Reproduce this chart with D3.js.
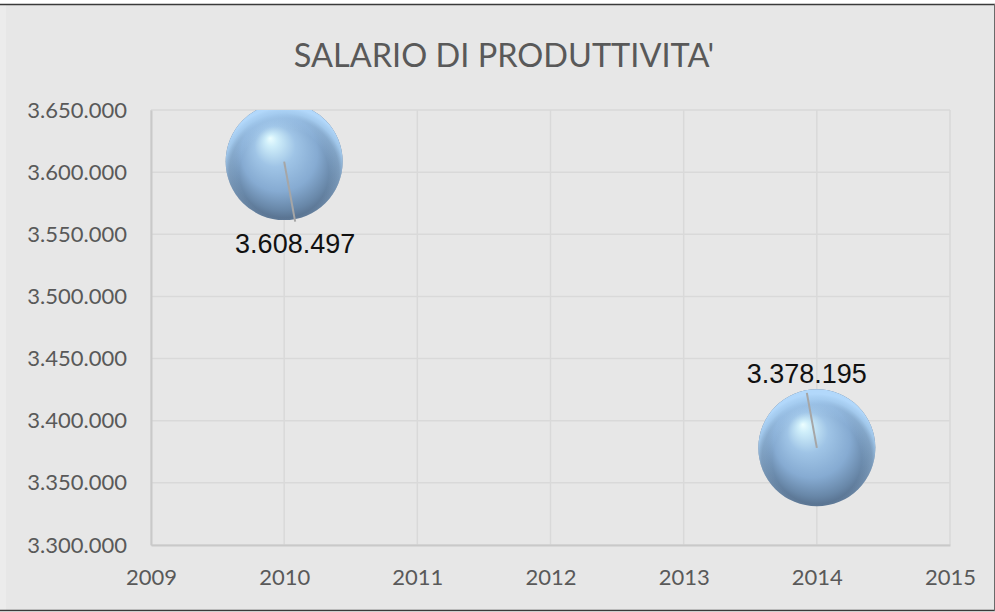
<!DOCTYPE html>
<html>
<head>
<meta charset="utf-8">
<script src="https://cdn.jsdelivr.net/npm/d3@7"></script>
<style>
  body { margin: 0; background: #fff; }
</style>
</head>
<body>
<div id="chart-area"></div>
<script>
// Data
const title = "SALARIO DI PRODUTTIVITA'"
const years = [2010, 2014]
const values = [3608497, 3378195]
const sizes = [3608497, 3608497]
const xTicks = [2009, 2010, 2011, 2012, 2013, 2014, 2015]
const yTicks = [3300000, 3350000, 3400000, 3450000, 3500000, 3550000, 3600000, 3650000]

// Config
const W = 995, H = 612
const plot = {left: 151, right: 950, top: 110, bottom: 545}

const it = d3.formatLocale({decimal: ",", thousands: ".", grouping: [3], currency: ["€", ""]})
const fmt = it.format(",.0f")

const svg = d3.select("#chart-area")
  .append("svg")
    .attr("width", W)
    .attr("height", H)
    .style("display", "block")

// Frame
svg.append("rect").attr("x", 0).attr("y", 4).attr("width", W).attr("height", 607).attr("fill", "#ececec")
svg.append("rect").attr("x", 6).attr("y", 5).attr("width", 988).attr("height", 605).attr("fill", "#e7e7e7")
svg.append("line").attr("x1", 0).attr("x2", W).attr("y1", 4.5).attr("y2", 4.5).attr("stroke", "#3a3a3a").attr("stroke-width", 1.5)
svg.append("line").attr("x1", 0).attr("x2", W).attr("y1", 610.5).attr("y2", 610.5).attr("stroke", "#3a3a3a").attr("stroke-width", 1.5)
svg.append("line").attr("x1", 994.5).attr("x2", 994.5).attr("y1", 4).attr("y2", 611).attr("stroke", "#6a6a6a").attr("stroke-width", 1)

// Scales
const x = d3.scaleLinear().domain([2009, 2015]).range([plot.left, plot.right])
const y = d3.scaleLinear().domain([3300000, 3650000]).range([plot.bottom, plot.top])
const r = d3.scaleSqrt().domain([0, d3.max(sizes)]).range([0, 58.5])

// Title
svg.append("text")
  .attr("x", 504).attr("y", 67)
  .attr("text-anchor", "middle")
  .attr("font-family", "Lato, 'Open Sans', sans-serif")
  .attr("font-size", 32.5)
  .attr("fill", "#595959")
  .text(title)

// Grid
const grid = svg.append("g")
grid.selectAll(".gx").data(xTicks).join("line")
  .attr("x1", d => x(d)).attr("x2", d => x(d))
  .attr("y1", plot.top).attr("y2", plot.bottom)
  .attr("stroke", "#d9d9d9").attr("stroke-width", 1.5)
grid.selectAll(".gy").data(yTicks).join("line")
  .attr("x1", plot.left).attr("x2", plot.right)
  .attr("y1", d => y(d)).attr("y2", d => y(d))
  .attr("stroke", "#d9d9d9").attr("stroke-width", 1.5)

// Axes
const xAxis = d3.axisBottom(x).tickValues(xTicks).tickFormat(d3.format("d")).tickSize(0).tickPadding(24)
const yAxis = d3.axisLeft(y).tickValues(yTicks).tickFormat(fmt).tickSize(0).tickPadding(24)

const gx = svg.append("g").attr("transform", "translate(0," + plot.bottom + ")").call(xAxis)
const gy = svg.append("g").attr("transform", "translate(" + plot.left + ",0)").call(yAxis)

;[gx, gy].forEach(a => {
  a.select(".domain").attr("stroke", "#c9c9c9").attr("stroke-width", 2)
  a.selectAll("text")
    .attr("font-family", "Lato, 'Open Sans', sans-serif")
    .attr("font-size", 22)
    .attr("fill", "#595959")
})

// Bubbles
const defs = svg.append("defs")
defs.append("clipPath").attr("id", "plot-clip")
  .append("rect")
    .attr("x", plot.left).attr("y", plot.top)
    .attr("width", plot.right - plot.left).attr("height", plot.bottom - plot.top)

const base = defs.append("radialGradient").attr("id", "sphere")
  .attr("cx", "0.5").attr("cy", "0.5").attr("r", "0.5").attr("fx", "0.38").attr("fy", "0.3")
base.selectAll("stop").data([
  [0, "#ecfeff"], [0.1, "#cfeefa"], [0.35, "#9fc4e6"], [0.65, "#86abd2"], [0.88, "#6887a8"], [1, "#566f8c"]
]).join("stop").attr("offset", d => d[0]).attr("stop-color", d => d[1])

const rim = defs.append("radialGradient").attr("id", "rim")
  .attr("cx", "0.5").attr("cy", "0.6").attr("r", "0.56").attr("fx", "0.5").attr("fy", "0.6")
rim.selectAll("stop").data([
  [0, "#acd4f8", 0], [0.68, "#acd4f8", 0], [0.84, "#acd4f8", 0.4], [0.92, "#acd4f8", 0.85], [1, "#b2d8fb", 1]
]).join("stop").attr("offset", d => d[0]).attr("stop-color", d => d[1]).attr("stop-opacity", d => d[2])

const pts = years.map((yr, i) => ({year: yr, value: values[i], size: sizes[i]}))

const bubbles = svg.append("g").attr("clip-path", "url(#plot-clip)")
bubbles.selectAll(".base").data(pts).join("circle")
  .attr("cx", d => x(d.year)).attr("cy", d => y(d.value)).attr("r", d => r(d.size))
  .attr("fill", "url(#sphere)")
bubbles.selectAll(".rim").data(pts).join("circle")
  .attr("cx", d => x(d.year)).attr("cy", d => y(d.value)).attr("r", d => r(d.size))
  .attr("fill", "url(#rim)")

// Data labels with leader lines
const labelPos = [{dx: 11, dy: 91, ly: 60}, {dx: -10, dy: -65, ly: -55}]
const labels = svg.append("g")
labels.selectAll("line").data(pts).join("line")
  .attr("x1", d => x(d.year)).attr("y1", d => y(d.value))
  .attr("x2", (d, i) => x(d.year) + labelPos[i].dx)
  .attr("y2", (d, i) => y(d.value) + labelPos[i].ly)
  .attr("stroke", "#a6a6a6").attr("stroke-width", 2)
labels.selectAll("text").data(pts).join("text")
  .attr("x", (d, i) => x(d.year) + labelPos[i].dx)
  .attr("y", (d, i) => y(d.value) + labelPos[i].dy)
  .attr("text-anchor", "middle")
  .attr("font-family", "'Liberation Sans', Arial, sans-serif")
  .attr("font-size", 27)
  .attr("fill", "#111")
  .text(d => fmt(d.value))
</script>
</body>
</html>
